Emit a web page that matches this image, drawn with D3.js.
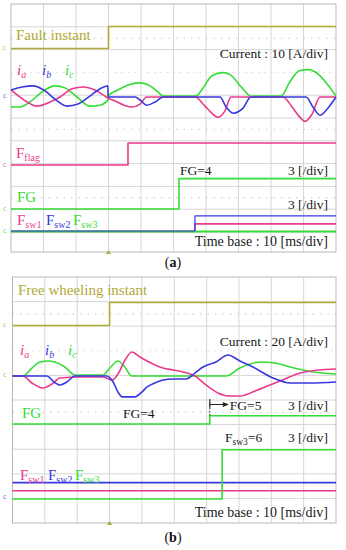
<!DOCTYPE html>
<html><head><meta charset="utf-8">
<script src="https://cdn.jsdelivr.net/npm/d3@7"></script>
<style>
body{margin:0;background:#fff;}
svg{display:block;font-family:"Liberation Serif","Times New Roman",serif;}
</style></head><body>
<svg id="chart" width="346" height="550"></svg>
<script>
// ---------------- DATA ----------------
// time in ms (10 ms/div, 10 divisions)
const timeGrid = [0,10,20,30,40,50,60,70,80,90,100];

// Panel (a): fault instant
const faultA = [[0,0],[30,0],[30,1],[100,1]];
const flagA  = [[0,0],[36,0],[36,1],[100,1]];
const fgA    = [[0,0],[51.7,0],[51.7,4],[100,4]];
const fsw1A  = [[0,0],[56.6,0],[56.6,1],[100,1]];
const fsw2A  = [[0,0],[56.6,0],[56.6,2],[100,2]];
const fsw3A  = [[0,0],[100,0]];
// currents [ms, A]
const iaA = [[0,3.1],[4,-1.3],[8,-4.0],[12,-2.2],[15.1,0],[18.8,3.6],[22.2,4.4],[25.8,3.1],[29.8,-0.4],
  [32,-1.8],[34.8,-3.6],[37.2,-4.4],[39.7,-3.1],[41.8,0],[56.6,0],[59.7,-4],[61.8,-7.1],[63.7,-8.9],
  [65.8,-6.2],[67.7,0],[83.7,0],[86.5,-4.4],[88.6,-8.4],[90.5,-10.7],[92.6,-7.6],[95.1,0],[100,0]];
const ibA = [[0,3.1],[3.4,4.4],[6.8,4.9],[10.5,2.7],[13.8,-1.3],[17.2,-4.0],[20.6,-3.1],[24.3,0.4],
  [27.4,3.6],[29.8,4.9],[29.9,0],[38.2,0],[39.7,-1.3],[41.8,-3.6],[44.3,-2.2],[46.8,0],[64.3,0],
  [66.2,-4.4],[68.3,-7.1],[71.4,-4.9],[73.8,0],[90.8,0],[92.9,-4.4],[95.1,-8],[97.5,-4.9],[100,0]];
const icA = [[0,-4.4],[2.8,-4.4],[5.8,-2.2],[9.5,2.2],[13.5,4.9],[16.6,4.0],[20.3,0],[24.3,-4.0],
  [27.4,-3.6],[29.8,-1.3],[29.9,0.4],[32.9,3.1],[36,5.3],[39.7,6.2],[42.8,4.9],[45.2,2.2],[46.8,0.4],
  [56.9,0.4],[59.1,4],[61.8,9.3],[65.2,10.7],[67.4,9.8],[71.1,4],[73.8,0.4],[83.1,0.4],[85.8,6.7],
  [88.9,11.6],[91.4,12],[95.1,9.3],[98.2,4],[100,0.4]];

// Panel (b): free wheeling instant
const freeB = [[0,0],[30,0],[30,1],[100,1]];
const fgB   = [[0,4],[61,4],[61,5],[100,5]];
const fsw1B = [[0,1],[100,1]];
const fsw2B = [[0,2],[100,2]];
const fsw3B = [[0,0],[64.8,0],[64.8,6],[100,6]];
const iaB = [[0,0],[3.2,0],[6,-5.7],[9.4,-9.8],[12.2,-6.5],[14.7,-1.6],[20.9,-0.8],[28,-0.8],[30.8,-3.3],
  [32.6,1.6],[34.8,13],[36.9,19.5],[39.4,15.4],[41.6,12.2],[46.5,6.5],[49.6,4.9],[52.7,3.3],[56.4,0],
  [59.8,-7.3],[63.5,-13.8],[67.2,-16.3],[70.3,-16.3],[75,-12.2],[79.6,-7.3],[84.2,-2.4],[88.9,2.4],
  [94.4,4.9],[100,5.7]];
const ibB = [[0,0],[10.7,0],[12.5,-4.1],[14.7,-7.3],[16.8,-4.9],[19.3,0],[29.2,0],[31.1,-4.9],[32.6,-13],
  [33.9,-17],[37.9,-17],[39.7,-13.8],[41.6,-8.9],[44,-5.7],[46.5,-3.3],[49.6,-2.4],[53.6,-2.4],[56.4,2.4],
  [58.9,7.3],[62.9,11.4],[66.6,17.1],[70.3,12.2],[74.3,7.3],[80.5,-1.6],[85.8,-5.7],[92,-5.7],[100,-4.9]];
const icB = [[0,0],[3.2,0],[6,6.5],[8.5,11.4],[11,12.2],[13.1,11.4],[16.2,7.3],[19.3,0.8],[28,0.8],
  [30.1,6.5],[32.6,12.2],[34.5,8.1],[36.9,0],[66,0],[70.3,6.5],[73.4,9.8],[76.8,11.4],[81.1,10.6],
  [85.8,7.3],[92.9,3.3],[100,1.6]];

// ---------------- DRAW ----------------
const C = {pink:"#ea3a8c", blue:"#3838e0", green:"#36dc36", olive:"#b0aa36", grid:"#d6d6d6", border:"#b8b8b8"};
const svg = d3.select("#chart");

function panel(cfg){
  const g = svg.append("g");
  const x = d3.scaleLinear().domain([0,100]).range([cfg.left, cfg.right]);
  const yDiv = d3.scaleLinear().domain([0,10]).range([cfg.top, cfg.top + 10*cfg.div]);
  g.selectAll(".vg").data(timeGrid.slice(1,-1)).join("line")
    .attr("x1",d=>x(d)).attr("x2",d=>x(d)).attr("y1",cfg.top).attr("y2",cfg.bottom)
    .attr("stroke",C.grid).attr("stroke-width",1);
  const hs = d3.range(1,11).map(k=>yDiv(k)).filter(v=>v<cfg.bottom-2);
  g.selectAll(".hg").data(hs).join("line")
    .attr("x1",cfg.left).attr("x2",cfg.right).attr("y1",d=>d).attr("y2",d=>d)
    .attr("stroke",C.grid).attr("stroke-width",1)
    .attr("stroke-dasharray",(d,i)=> cfg.dottedIdx.includes(i+1) ? "1.5,5" : null);
  g.selectAll(".hd").data(cfg.halfDots).join("line")
    .attr("x1",cfg.left).attr("x2",cfg.right).attr("y1",d=>yDiv(d)).attr("y2",d=>yDiv(d))
    .attr("stroke","#c8c8c8").attr("stroke-width",1).attr("stroke-dasharray","1.5,6");
  g.append("rect").attr("x",cfg.left).attr("y",cfg.top).attr("width",cfg.right-cfg.left)
    .attr("height",cfg.bottom-cfg.top).attr("fill","none").attr("stroke",C.border);
  return {g, x, yDiv};
}

function trace(p, data, base, ppu, color, curve, w){
  const y = d3.scaleLinear().domain([0,1]).range([base, base-ppu]);
  p.g.append("path").datum(data)
    .attr("d", d3.line().x(d=>p.x(d[0])).y(d=>y(d[1])).curve(curve||d3.curveLinear))
    .attr("fill","none").attr("stroke",color).attr("stroke-width",w||1.6)
    .attr("stroke-linejoin","round");
}

function label(g, x, y, main, sub, color, opts={}){
  const t = g.append("text").attr("x",x).attr("y",y).attr("fill",color)
    .attr("font-size",opts.size||15).attr("font-style",opts.italic?"italic":null);
  t.append("tspan").text(main);
  if(sub){ t.append("tspan").attr("font-size",opts.subSize||10).attr("dy",3).text(sub); }
  if(opts.tail){ t.append("tspan").attr("dy",-3).text(opts.tail); }
  return t;
}
function rtext(g, x, y, s, size){
  return g.append("text").attr("x",x).attr("y",y).attr("text-anchor","end")
    .attr("font-size",size||13.5).attr("fill","#1a1a1a").text(s);
}
function marker(g, x, y, color){
  g.append("text").attr("x",x).attr("y",y+2).attr("font-size",5).attr("fill",color)
   .attr("font-family","DejaVu Sans").text("C");
}
function trig(g, x, y){
  g.append("path").attr("d",`M${x-2.5},${y+3}L${x+2.5},${y+3}L${x},${y-1}Z`).attr("fill",C.olive);
}

// ----- Panel (a)
const A = panel({left:11,right:336,top:4,bottom:252,div:22.8,dottedIdx:[3],halfDots:[1.5,5.5,8.5]});
const cur = d3.curveMonotoneX;
trace(A, faultA, 48.5, 22, C.olive, null, 1.6);
trace(A, icA, 97, 2.28, C.green, cur);
trace(A, iaA, 97, 2.28, C.pink, cur);
trace(A, ibA, 97, 2.28, C.blue, cur);
trace(A, flagA, 165, 22, C.pink);
trace(A, fgA, 209, 7.6, C.green);
trace(A, fsw1A, 231.5, 7.6, C.pink);
trace(A, fsw3A, 231.5, 7.6, C.green, null, 1.8);
trace(A, fsw2A, 231, 7.6, C.blue, null, 1.2);

label(A.g, 16, 40, "Fault instant", null, C.olive, {size:15});
rtext(A.g, 328, 58, "Current : 10 [A/div]");
label(A.g, 17, 75, "i", "a", C.pink, {italic:true});
label(A.g, 42, 75, "i", "b", C.blue, {italic:true});
label(A.g, 65, 75, "i", "c", C.green, {italic:true});
label(A.g, 16, 158, "F", "flag", C.pink);
label(A.g, 17, 202, "FG", null, C.green);
A.g.append("text").attr("x",180).attr("y",175).attr("font-size",13.5).attr("fill","#1a1a1a").text("FG=4");
rtext(A.g, 328, 175, "3 [/div]");
rtext(A.g, 328, 209, "3 [/div]");
label(A.g, 17, 225, "F", "sw1", C.pink);
label(A.g, 46, 225, "F", "sw2", C.blue);
label(A.g, 73, 225, "F", "sw3", C.green);
rtext(A.g, 328, 246, "Time base : 10 [ms/div]", 14);
marker(A.g, 3, 48, C.olive);
marker(A.g, 3, 96, C.blue);
marker(A.g, 3, 165, C.pink);
marker(A.g, 3, 209, C.green);
marker(A.g, 3, 231, C.green);
trig(A.g, A.x(30), 251);

// ----- Panel (b)
const B = panel({left:12.5,right:336,top:277,bottom:523,div:24.6,dottedIdx:[3],halfDots:[1.5,5.5]});
trace(B, freeB, 325.5, 23, C.olive, null, 1.6);
trace(B, icB, 376, 1.23, C.green, cur);
trace(B, iaB, 376, 1.23, C.pink, cur);
trace(B, ibB, 376, 1.23, C.blue, cur);
trace(B, fgB, 456.8, 8.2, C.green);
trace(B, fsw1B, 499, 8.2, C.pink);
trace(B, fsw2B, 499, 8.2, C.blue);
trace(B, fsw3B, 499, 8.2, C.green);

label(B.g, 18, 295, "Free wheeling instant", null, C.olive, {size:15});
rtext(B.g, 328, 346, "Current : 20 [A/div]");
label(B.g, 20, 355, "i", "a", C.pink, {italic:true});
label(B.g, 45, 355, "i", "b", C.blue, {italic:true});
label(B.g, 68, 355, "i", "c", C.green, {italic:true});
label(B.g, 22, 418, "FG", null, C.green);
B.g.append("text").attr("x",123).attr("y",418).attr("font-size",13.5).attr("fill","#1a1a1a").text("FG=4");
const ax = B.x(61);
B.g.append("line").attr("x1",ax).attr("x2",ax).attr("y1",399).attr("y2",416)
  .attr("stroke","#222").attr("stroke-width",1).attr("stroke-dasharray","1.5,1.5");
B.g.append("line").attr("x1",ax).attr("x2",ax).attr("y1",400).attr("y2",408).attr("stroke","#222");
B.g.append("line").attr("x1",ax).attr("x2",ax+15).attr("y1",404.5).attr("y2",404.5).attr("stroke","#222");
B.g.append("path").attr("d",`M${ax+19},404.5L${ax+13},402L${ax+13},407Z`).attr("fill","#222");
B.g.append("text").attr("x",ax+20).attr("y",410).attr("font-size",13.5).attr("fill","#1a1a1a").text("FG=5");
rtext(B.g, 328, 410, "3 [/div]");
label(B.g, 225, 442, "F", "sw3", "#1a1a1a", {size:13.5, subSize:9.5, tail:"=6"});
rtext(B.g, 328, 442, "3 [/div]");
label(B.g, 20, 480, "F", "sw1", C.pink);
label(B.g, 48, 480, "F", "sw2", C.blue);
label(B.g, 75, 480, "F", "sw3", C.green);
rtext(B.g, 328, 517, "Time base : 10 [ms/div]", 14);
marker(B.g, 3, 325, C.olive);
marker(B.g, 3, 375, C.olive);
marker(B.g, 3, 497, C.blue);
trig(B.g, B.x(30), 522);

function caption(y, letter){
  const t = svg.append("text").attr("x",173).attr("y",y).attr("text-anchor","middle")
    .attr("font-size",14).attr("fill","#111");
  t.append("tspan").text("(");
  t.append("tspan").attr("font-weight","bold").text(letter);
  t.append("tspan").text(")");
}
caption(267, "a");
caption(542, "b");
</script>
</body></html>
